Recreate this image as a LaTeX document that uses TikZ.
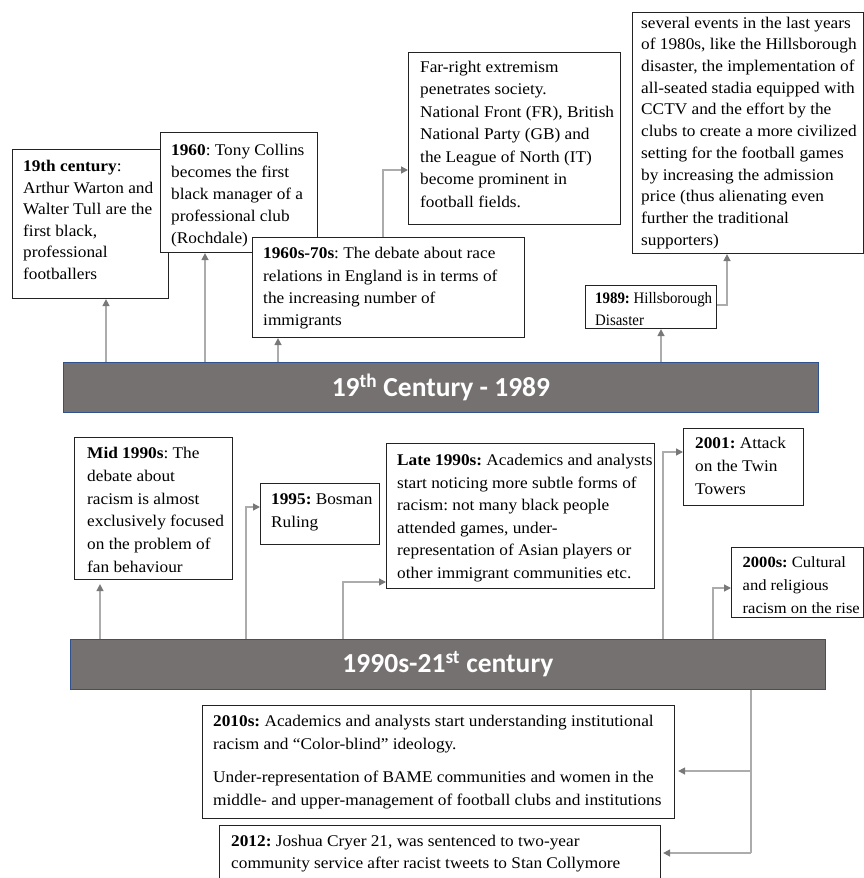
\documentclass[tikz,border=0pt]{standalone}
\usepackage{fontspec}
\setmainfont{Liberation Serif}[FakeStretch=1.06]
\newfontfamily\narrowserif{Liberation Serif}[FakeStretch=0.93]
\newfontfamily\barfont{Carlito}
\usetikzlibrary{arrows.meta}
\definecolor{bargray}{RGB}{118,113,113}
\definecolor{barblue}{RGB}{47,82,143}
\definecolor{linegray}{RGB}{172,172,172}
\definecolor{tipgray}{RGB}{120,120,120}
\definecolor{boxline}{RGB}{35,35,35}
\begin{document}
\frenchspacing
\begin{tikzpicture}[x=1pt,y=-1pt,
  box/.style={draw=boxline, line width=1.1pt, fill=white, inner sep=0pt, anchor=north west},
  txt/.style={anchor=north west, inner sep=0pt, align=left, font=\fontsize{16.3}{#1}\selectfont},
  bar/.style={draw=barblue, line width=0.9pt, fill=bargray, text=white, inner sep=0pt, anchor=north west,
    minimum width=755pt, minimum height=50pt, font=\barfont\bfseries\fontsize{27.5}{30}\selectfont},
  conn/.style={draw=linegray, line width=1.4pt, -{Triangle[length=7pt,width=7pt,color=tipgray]}},
  plainline/.style={draw=linegray, line width=1.4pt}
]
\useasboundingbox (0,0) rectangle (864,878);
\clip (0,0) rectangle (864,878);

% ---------- upper timeline ----------
\node[box, minimum width=156pt, minimum height=149pt] (A) at (12,149) {};
\node[txt=21.5] (At) at (23,156.5) {\strut\textbf{19th century}:\\Arthur Warton and\\Walter Tull are the\\first black,\\professional\\footballers};

\node[box, minimum width=157pt, minimum height=120pt] (B) at (160,132) {};
\node[txt=22] (Bt) at (171,139.6) {\strut\textbf{1960}: Tony Collins\\becomes the first\\black manager of a\\professional club\\(Rochdale)};

\node[box, minimum width=272pt, minimum height=100pt] (C) at (252,237) {};
\node[txt=22.2] (Ct) at (263,243.2) {\strut\textbf{1960s-70s}: The debate about race\\relations in England is in terms of\\the increasing number of\\immigrants};

\node[box, minimum width=212pt, minimum height=172pt] (D) at (408,52) {};
\node[txt=22.5] (Dt) at (420,56.3) {\strut Far-right extremism\\penetrates society.\\National Front (FR), British\\National Party (GB) and\\the League of North (IT)\\become prominent in\\football fields.};

\node[box, minimum width=231pt, minimum height=241pt] (E) at (632,12) {};
\node[txt=21.7] (Et) at (641,12.8) {\strut several events in the last years\\of 1980s, like the Hillsborough\\disaster, the implementation of\\all-seated stadia equipped with\\CCTV and the effort by the\\clubs to create a more civilized\\setting for the football games\\by increasing the admission\\price (thus alienating even\\further the traditional\\supporters)};

\node[box, minimum width=131pt, minimum height=43pt] (H89) at (585,285) {};
\node[txt=21.7, font=\narrowserif\fontsize{16}{21.7}\selectfont] (H89t) at (595,288.5) {\strut\textbf{1989:} Hillsborough\\Disaster};

\node[bar] (bar1) at (63,362) {19\textsuperscript{th} Century - 1989};

\coordinate (pA) at (106,362);
\coordinate (pB) at (205,362);
\coordinate (pC) at (278,362);
\coordinate (p89) at (661,362);
\coordinate (kD) at (383,170);
\coordinate (kE) at (727,305);

\draw[conn] (pA) -- (pA |- A.south);
\draw[conn] (pB) -- (pB |- B.south);
\draw[conn] (pC) -- (pC |- C.south);
\draw[conn] (p89) -- (p89 |- H89.south);
\draw[conn] (C.north -| kD) -- (kD) -- (D.west |- kD);
\draw[conn] (H89.east |- kE) -- (kE) -- (E.south -| kE);

% ---------- lower timeline ----------
\node[box, minimum width=158pt, minimum height=142pt] (F) at (74,437) {};
\node[txt=22.7] (Ft) at (87,442.8) {\strut\textbf{Mid 1990s}: The\\debate about\\racism is almost\\exclusively focused\\on the problem of\\fan behaviour};

\node[box, minimum width=119pt, minimum height=61pt] (G) at (260,483) {};
\node[txt=23] (Gt) at (271,488.6) {\strut\textbf{1995:} Bosman\\Ruling};

\node[box, minimum width=268pt, minimum height=145pt] (H) at (386,443) {};
\node[txt=22.5] (Ht) at (397,449.7) {\strut\textbf{Late 1990s:} Academics and analysts\\start noticing more subtle forms of\\racism: not many black people\\attended games, under-\\representation of Asian players or\\other immigrant communities etc.};

\node[box, minimum width=120pt, minimum height=77pt] (I) at (683,428) {};
\node[txt=22.8] (It) at (695,432.7) {\strut\textbf{2001:} Attack\\on the Twin\\Towers};

\node[box, minimum width=132pt, minimum height=70pt] (J) at (731,547) {};
\node[txt=22.7, font=\fontsize{15.6}{22.7}\selectfont] (Jt) at (742.5,551.8) {\strut\textbf{2000s:} Cultural\\and religious\\racism on the rise};

\node[bar] (bar2) at (70,639) {1990s-21\textsuperscript{st} century};

\node[box, minimum width=472pt, minimum height=113pt] (K) at (202,705) {};
\node[txt=23] (Kt) at (213,710.6) {\strut\textbf{2010s:} Academics and analysts start understanding institutional\\racism and “Color-blind” ideology.\\[10pt]Under-representation of BAME communities and women in the\\middle- and upper-management of football clubs and institutions};

\node[box, minimum width=441pt, minimum height=80pt] (L) at (219,825) {};
\node[txt=22] (Lt) at (231,831.3) {\strut\textbf{2012:} Joshua Cryer 21, was sentenced to two-year\\community service after racist tweets to Stan Collymore};

\coordinate (pF) at (100,639);
\coordinate (pG) at (246,639);
\coordinate (pH) at (343,639);
\coordinate (pI) at (663,639);
\coordinate (pJ) at (713,639);
\coordinate (kG) at (246,507);
\coordinate (kH) at (343,582);
\coordinate (kI) at (663,452);
\coordinate (kJ) at (713,588);
\coordinate (kK) at (751,771);
\coordinate (kL) at (751,853);

\draw[conn, shorten >=4pt] (pF) -- (pF |- F.south);
\draw[conn] (pG) -- (kG) -- (G.west |- kG);
\draw[conn] (pH) -- (kH) -- (H.west |- kH);
\draw[conn] (pI) -- (kI) -- (I.west |- kI);
\draw[conn] (pJ) -- (kJ) -- (J.west |- kJ);
\draw[plainline] (bar2.south -| kK) -- (kL);
\draw[conn, shorten >=3pt] (kK) -- (K.east |- kK);
\draw[conn, shorten >=2pt] (kL) -- (L.east |- kL);
\end{tikzpicture}
\end{document}
